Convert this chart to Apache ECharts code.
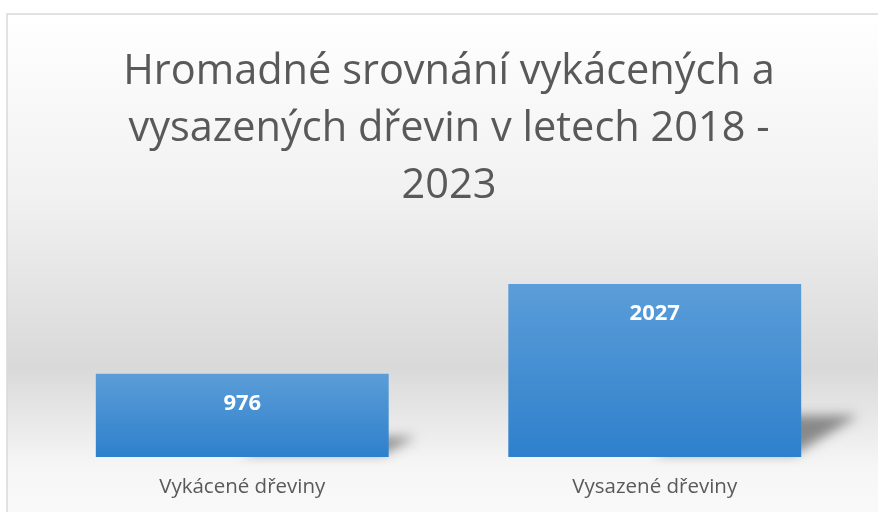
<!DOCTYPE html>
<html>
<head>
<meta charset="utf-8">
<script src="https://cdn.jsdelivr.net/npm/echarts@6/dist/echarts.min.js"></script>
<style>
  html, body { margin: 0; padding: 0; background: #fff; }
  #chart { width: 878px; height: 512px; }
</style>
</head>
<body>
<div id="chart"></div>
<script>
// chart data
const categories = ['Vykácené dřeviny', 'Vysazené dřeviny'];
const values = [976, 2027];
const titleText = 'Hromadné srovnání vykácených a\nvysazených dřevin v letech 2018 -\n2023';

const chart = echarts.init(document.getElementById('chart'));

const barRatio = 0.71; // bar width as part of category band
const shift = 2000;    // shadow shape is drawn off-canvas, only its blur is shown

const option = {
  animation: false,
  textStyle: { fontFamily: '"Open Sans", sans-serif' },
  graphic: [
    {
      // chart area frame with soft gray gradient
      type: 'rect',
      z: -10,
      shape: { x: 7, y: 14, width: 900, height: 520 },
      style: {
        stroke: '#d9d9d9',
        lineWidth: 1.5,
        fill: {
          type: 'linear', x: 0, y: 0, x2: 0, y2: 1,
          colorStops: [
            { offset: 0, color: '#ffffff' },
            { offset: 0.35, color: '#f1f1f1' },
            { offset: 0.68, color: '#d9d9d9' },
            { offset: 0.87, color: '#f6f6f6' },
            { offset: 1, color: '#fbfbfb' }
          ]
        }
      }
    }
  ],
  title: {
    text: titleText,
    left: 444,
    top: 39,
    textAlign: 'center',
    textStyle: {
      fontFamily: '"Open Sans", sans-serif',
      fontSize: 41.5,
      fontWeight: 'normal',
      color: '#595959',
      lineHeight: 57
    }
  },
  grid: { left: 36, right: 17, top: 243.6, bottom: 55 },
  xAxis: {
    type: 'category',
    data: categories,
    axisLine: { show: false },
    axisTick: { show: false },
    axisLabel: { color: '#595959', fontSize: 20.5, margin: 20 }
  },
  yAxis: {
    type: 'value',
    min: 0,
    max: 2500,
    show: false,
    splitLine: { show: false }
  },
  series: [
    {
      // soft skewed shadow behind each bar
      type: 'custom',
      z: 1,
      data: values.map((v, i) => [i, v]),
      renderItem: function (params, api) {
        const base = api.coord([api.value(0), 0]);
        const top = api.coord([api.value(0), api.value(1)]);
        const band = api.size([1, 0])[0];
        const w = band * barRatio;
        const h = base[1] - top[1];
        const x0 = base[0] - shift;
        const x1 = base[0] + w / 2 - shift;
        const dx = h * 0.33, dy = h * 0.24;
        return {
          type: 'polygon',
          shape: {
            points: [
              [x0, base[1] - 3],
              [x1 - 6, base[1] - 3],
              [x1 + dx, base[1] - dy],
              [x0 + dx, base[1] - dy]
            ]
          },
          style: {
            fill: '#000',
            shadowBlur: 12,
            shadowOffsetX: shift,
            shadowColor: 'rgba(0,0,0,0.42)'
          }
        };
      }
    },
    {
      type: 'bar',
      z: 2,
      data: values,
      barWidth: (barRatio * 100) + '%',
      itemStyle: {
        color: {
          type: 'linear', x: 0, y: 0, x2: 0, y2: 1,
          colorStops: [
            { offset: 0, color: '#5b9dd8' },
            { offset: 1, color: '#2e80cc' }
          ]
        }
      },
      label: {
        show: true,
        position: 'insideTop',
        distance: 19,
        color: '#ffffff',
        fontWeight: 'bold',
        fontSize: 22
      }
    }
  ]
};

chart.setOption(option);
</script>
</body>
</html>
